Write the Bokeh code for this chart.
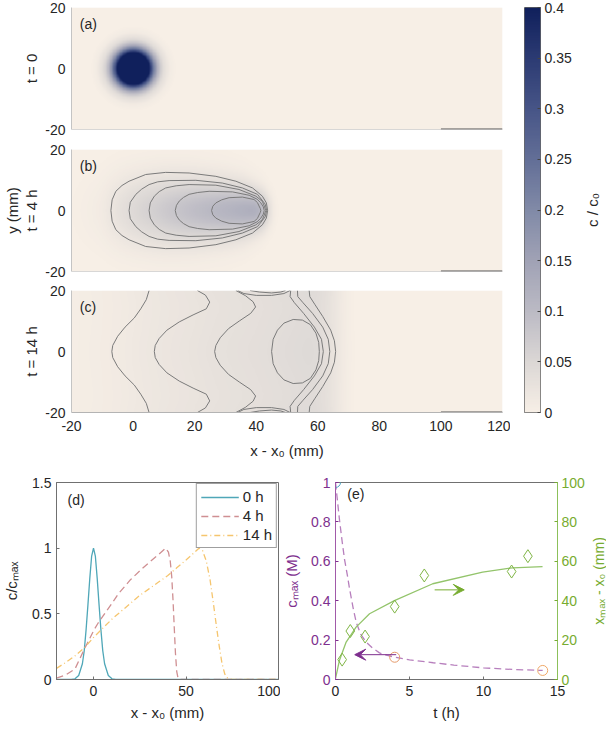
import numpy as np
from bokeh.plotting import figure
from bokeh.layouts import column, row
from bokeh.models import (LinearColorMapper, FixedTicker, Label, Legend,
                          LegendItem, LinearAxis, Range1d, Arrow, VeeHead, Span)
from bokeh.embed import file_html
from bokeh.resources import INLINE

FONT = "Liberation Sans"
TXT = "#262626"
TICK_FS = "14px"
LAB_FS = "15px"

# ---------------- data ----------------
x_extent = [-20, 120]
y_extent = [-20, 20]
map_x_ticks = [-20, 0, 20, 40, 60, 80, 100, 120]
map_x_labels = ["-20", "0", "20", "40", "60", "80", "100", "120"]
map_y_ticks = [-20, 0, 20]
map_y_labels = ["-20", "0", "20"]

cbar_ticks = [0, 0.05, 0.1, 0.15, 0.2, 0.25, 0.3, 0.35, 0.4]
cbar_labels = ["0", "0.05", "0.1", "0.15", "0.2", "0.25", "0.3", "0.35", "0.4"]

# (a) t = 0 : radial profile of the initial spot (c/c0 vs r, mm)
blob_x0, blob_y0 = 0.0, 0.0
blob_r = [0, 2, 3, 4, 5, 6, 7, 8, 9, 10, 12, 14]
blob_c = [1.0, 0.87, 0.74, 0.58, 0.43, 0.30, 0.19, 0.11, 0.065, 0.035, 0.008, 0.0]

# (d) centre-line profiles c/cmax
prof_x_0h = [-20, -12, -10, -8, -6, -5, -4, -3, -2, -1, 0, 1, 2, 3, 4, 5, 6, 8, 10, 12, 100]
prof_0h = [0, 0, 0.005, 0.03, 0.12, 0.22, 0.38, 0.57, 0.77, 0.94, 1.0, 0.94, 0.77, 0.57,
           0.38, 0.22, 0.12, 0.03, 0.005, 0, 0]
prof_x_4h = [-20, -15, -10, -5, 0, 2.5, 5, 10, 13.3, 20, 26, 30, 35, 39, 40.5, 41.5, 42.3,
             43, 43.7, 44.3, 45, 45.7, 47, 100]
prof_4h = [0.01, 0.035, 0.08, 0.23, 0.37, 0.43, 0.48, 0.58, 0.65, 0.76, 0.84, 0.89, 0.95,
           1.0, 0.97, 0.9, 0.78, 0.6, 0.38, 0.2, 0.06, 0.01, 0, 0]
prof_x_14h = [-20, -15, -10, -5, 0, 5, 10, 15, 20, 25, 30, 35, 40, 45, 50, 54, 57, 59, 61,
              63, 65, 66.5, 68, 69.5, 71, 72.5, 75, 100]
prof_14h = [0.085, 0.13, 0.18, 0.24, 0.32, 0.39, 0.46, 0.52, 0.58, 0.64, 0.69, 0.74, 0.79,
            0.85, 0.91, 0.96, 1.0, 0.98, 0.9, 0.76, 0.56, 0.4, 0.25, 0.12, 0.04, 0.01, 0, 0]

# (b), (c): peak c/c0 and transverse profiles (relative, vs |y|)
cmax_4h = 0.125
cmax_14h = 0.045
trans_y = [0, 2, 4, 6, 8, 10, 12, 14, 16, 18, 20, 25, 30, 80]
trans_4h = [1.0, 0.97, 0.88, 0.75, 0.6, 0.45, 0.32, 0.21, 0.13, 0.075, 0.04, 0.01, 0.0, 0.0]
trans_14h = [1.0, 0.995, 0.985, 0.97, 0.96, 0.95, 0.94, 0.93, 0.935, 0.95, 0.965, 0.965,
             0.965, 0.965]
# width of the 4 h plume relative to its rear part, vs x
width_x_4h = [-20, 10, 20, 30, 36, 40, 44, 50, 120]
width_4h = [1.0, 1.0, 0.93, 0.82, 0.72, 0.6, 0.5, 0.45, 0.45]

# (b) contour lines (upper half; mirrored in y)
c4_lines_x = [
    [-7.2, -6.8, -5.6, -3.6, -1.3, 4.1, 10.6, 18.2, 26.9, 33.4, 38.8, 42.0, 43.3, 43.7],
    [-1.3, -0.9, 0.9, 2.8, 5.2, 8.0, 11.7, 20.4, 29.0, 35.5, 40.4, 42.9, 43.4],
    [5.2, 5.6, 6.9, 8.5, 10.6, 14.0, 18.2, 26.9, 34.4, 39.9, 42.0, 42.6, 43.1],
    [13.7, 14.1, 15.0, 16.4, 18.2, 21.0, 24.7, 32.3, 37.7, 40.3, 41.5, 42.3, 42.6],
    [25.5, 25.9, 26.9, 28.8, 31.2, 35.5, 39.3, 40.4, 40.9, 41.3, 41.5],
]
c4_lines_y = [
    [0, 3.5, 6.3, 8.2, 9.6, 11.8, 12.5, 12.3, 11.2, 9.6, 7.4, 4.7, 2.5, 0],
    [0, 2.7, 5.3, 7.0, 8.5, 9.4, 9.8, 9.9, 9.0, 7.4, 5.3, 2.1, 0],
    [0, 2.5, 4.7, 6.2, 7.4, 8.1, 8.5, 8.3, 6.9, 4.7, 3.0, 1.5, 0],
    [0, 1.7, 3.1, 4.3, 5.3, 5.9, 6.3, 6.1, 5.0, 3.7, 2.5, 1.2, 0],
    [0, 1.4, 2.5, 3.5, 4.2, 4.4, 3.6, 2.6, 1.5, 0.7, 0],
]

# (c) contour lines (upper half; mirrored in y)
c14_lines_x = [
    [5.2, 4.3, 2.5, 0.4, -2.6, -5.0, -6.6, -6.9],
    [20.9, 23.5, 24.9, 23.8, 19.5, 15.0, 11.0, 8.5, 7.2, 6.9],
    [33.4, 36.5, 39.0, 39.8, 38.2, 34.5, 31.0, 28.3, 26.9, 26.5],
    [45.0, 45.5, 46.9, 49.0, 52.0, 55.0, 57.6, 59.4, 60.3, 60.5],
    [51.2, 51.0, 52.4, 55.4, 58.9, 61.2, 61.8],
    [53.4, 53.5, 55.2, 58.3, 61.6, 63.4, 63.9],
    [57.2, 57.4, 59.0, 61.6, 64.2, 65.4, 65.8],
]
c14_lines_y = [
    [20, 17, 14, 11, 8, 5, 2, 0],
    [20, 18.5, 16.2, 14, 12, 9.7, 7, 4.3, 2, 0],
    [20, 18.3, 16.3, 14.6, 12.5, 10, 7.5, 4.5, 2, 0],
    [0, 4, 7, 9.3, 10.5, 10.3, 8.8, 6, 3, 0],
    [20, 18, 16, 12.5, 8, 4, 0],
    [20, 18, 16, 12.5, 8, 4, 0],
    [20, 18, 15.5, 11.5, 7, 3.5, 0],
]
# small loops hugging the walls (top wall; mirrored to the bottom wall)
c14_wall_x = [[34.0, 36.0, 40.0, 45.0, 49.0, 51.0],
              [38.0, 41.0, 45.0, 48.0, 49.5]]
c14_wall_y = [[20, 19.0, 18.4, 18.4, 19.0, 20],
              [20, 19.5, 19.2, 19.5, 20]]

# (d), (e) ticks
d_x_ticks = [0, 50, 100]
d_x_labels = ["0", "50", "100"]
d_y_ticks = [0, 0.5, 1, 1.5]
d_y_labels = ["0", "0.5", "1", "1.5"]
e_x_ticks = [0, 5, 10, 15]
e_x_labels = ["0", "5", "10", "15"]
e_l_ticks = [0, 0.2, 0.4, 0.6, 0.8, 1.0]
e_l_labels = ["0", "0.2", "0.4", "0.6", "0.8", "1"]
e_r_ticks = [0, 20, 40, 60, 80, 100]
e_r_labels = ["0", "20", "40", "60", "80", "100"]

# (e) c_max and x_max - x0 vs t
t_cmax_line = [0, 0.1, 0.27, 0.45, 0.61, 0.8, 0.95, 1.2, 1.4, 1.7, 2.07, 2.5, 2.97, 3.5,
               4.05, 5, 6.6, 8, 10, 12, 14]
cmax_line = [1.0, 0.93, 0.81, 0.7, 0.61, 0.53, 0.46, 0.36, 0.29, 0.23, 0.19, 0.16, 0.135,
             0.122, 0.113, 0.1, 0.085, 0.073, 0.059, 0.051, 0.046]
t_cmax_pts = [0, 4, 14]
cmax_pts = [1.0, 0.113, 0.046]
cmax_pt_colors = ["#4da6c4", "#e59a6a", "#f0a868"]

t_xmax_line = [0, 0.27, 0.72, 1.39, 2.3, 3.98, 6.57, 9.94, 11.96, 13.99]
xmax_line = [0.5, 9.8, 19.0, 26.6, 33.4, 40.0, 48.6, 54.5, 56.7, 57.3]
t_xmax_pts = [0.45, 1.0, 2.0, 4.0, 6.0, 11.9, 13.0]
xmax_pts = [10.1, 24.6, 21.8, 37.0, 52.8, 54.8, 62.6]

arrow_c = dict(t0=4.1, t1=1.3, v=0.126)
arrow_x = dict(t0=6.7, t1=8.7, v=45.5)

# ---------------- colour map ----------------
cmap_stops = [0.0, 0.05, 0.1, 0.15, 0.2, 0.25, 0.3, 0.35, 0.4]
cmap_rgb = [(247, 239, 230), (219, 215, 213), (187, 186, 196), (160, 162, 181),
            (129, 138, 167), (99, 111, 151), (71, 85, 135), (44, 59, 115), (16, 32, 92)]
pos = np.linspace(0, 0.4, 256)
chan = [np.interp(pos, cmap_stops, [c[i] for c in cmap_rgb]) for i in range(3)]
palette = ["#%02x%02x%02x" % (int(round(r)), int(round(g)), int(round(b)))
           for r, g, b in zip(*chan)]
cmap = LinearColorMapper(palette=palette, low=0, high=0.4)

# ---------------- fields ----------------
xs = np.linspace(x_extent[0], x_extent[1], 561)
ys = np.linspace(y_extent[0], y_extent[1], 161)
X, Y = np.meshgrid(xs, ys)
R = np.hypot(X - blob_x0, Y - blob_y0)
field_a = np.interp(R, blob_r, blob_c)


def smooth_x(profile, sigma_pts=5):
    k = np.arange(-4 * sigma_pts, 4 * sigma_pts + 1)
    w = np.exp(-0.5 * (k / sigma_pts) ** 2)
    w /= w.sum()
    pad = np.pad(profile, len(k) // 2, mode="edge")
    return np.convolve(pad, w, mode="valid")


f4 = smooth_x(np.interp(xs, prof_x_4h, prof_4h))
f14 = smooth_x(np.interp(xs, prof_x_14h, prof_14h))
wid4 = np.interp(xs, width_x_4h, width_4h)
field_b = cmax_4h * f4[None, :] * np.interp(np.abs(Y) / wid4[None, :], trans_y, trans_4h)
field_c = cmax_14h * f14[None, :] * np.interp(np.abs(ys), trans_y, trans_14h)[:, None]


def mirror_lines(lx_list, ly_list):
    mx, my = [], []
    for lx, ly in zip(lx_list, ly_list):
        mx.append(list(lx) + list(lx[::-1][1:]))
        my.append(list(ly) + [-v for v in ly[::-1][1:]])
    return mx, my


def style_axis(ax, size=TICK_FS, color=TXT, lsize=LAB_FS):
    ax.major_label_text_font = FONT
    ax.major_label_text_font_size = size
    ax.major_label_text_color = color
    ax.axis_label_text_font = FONT
    ax.axis_label_text_font_size = lsize
    ax.axis_label_text_font_style = "normal"
    ax.axis_label_text_color = color
    ax.minor_tick_line_color = None


def label_only_axis(text, color, lsize=LAB_FS):
    ax = LinearAxis(ticker=FixedTicker(ticks=[]), axis_label=text)
    ax.axis_line_color = None
    ax.major_tick_line_color = None
    ax.major_tick_in = 0
    ax.major_tick_out = 0
    ax.minor_tick_in = 0
    ax.minor_tick_out = 0
    ax.major_label_standoff = 0
    ax.axis_label_standoff = 0
    style_axis(ax, TICK_FS, color, lsize)
    return ax


def label_strip(text, color, frame_h, top, left, lsize=LAB_FS):
    """A 1-px wide figure whose left axis carries only a (bottom-to-top) label."""
    p = figure(frame_width=1, frame_height=frame_h, x_range=Range1d(0, 1),
               y_range=Range1d(0, 1), output_backend="svg", toolbar_location=None,
               min_border_left=left, min_border_right=0, min_border_top=top,
               min_border_bottom=0, outline_line_color=None, y_axis_location=None)
    p.grid.visible = False
    p.xaxis.visible = False
    p.add_layout(label_only_axis(text, color, lsize), "left")
    return p


def map_fig(field, ylabel, tag, top, bottom, show_x, extra_label=None):
    p = figure(frame_width=431, frame_height=122,
               x_range=Range1d(*x_extent), y_range=Range1d(*y_extent),
               output_backend="svg", toolbar_location=None,
               min_border_left=69, min_border_right=10,
               min_border_top=top, min_border_bottom=bottom,
               outline_line_color=None)
    p.grid.visible = False
    p.image(image=[field], x=x_extent[0], y=y_extent[0], dw=x_extent[1] - x_extent[0],
            dh=y_extent[1] - y_extent[0], color_mapper=cmap)
    ya = p.yaxis[0]
    ya.ticker = FixedTicker(ticks=map_y_ticks)
    ya.major_label_overrides = dict(zip(map_y_ticks, map_y_labels))
    ya.axis_label = ylabel
    ya.axis_line_color = "#c4c4c4"
    ya.major_tick_line_color = None
    ya.major_tick_in = 0
    ya.major_tick_out = 0
    ya.major_label_standoff = 6
    ya.axis_label_standoff = 2
    style_axis(ya)
    if extra_label:
        p.add_layout(label_only_axis(extra_label, TXT), "left")
    xa = p.xaxis[0]
    if show_x:
        xa.ticker = FixedTicker(ticks=map_x_ticks)
        xa.major_label_overrides = dict(zip(map_x_ticks, map_x_labels))
        xa.axis_label = "x - x\u2080 (mm)"
        xa.axis_line_color = "#b4b4b4"
        xa.major_tick_line_color = None
        xa.major_tick_in = 0
        xa.major_tick_out = 0
        xa.major_label_standoff = 8
        xa.axis_label_standoff = 8
        style_axis(xa)
    else:
        xa.visible = False
        p.add_layout(Span(location=y_extent[0], dimension="width",
                          line_color="#b4b4b4", line_width=1))
    p.segment(x0=[100], y0=[y_extent[0]], x1=[x_extent[1]], y1=[y_extent[0]],
              line_color="#555555", line_width=2)
    p.add_layout(Label(x=-17.3, y=14.6, text=tag, text_font=FONT, text_font_size="14px",
                       text_color=TXT, text_baseline="middle"))
    return p


fa = map_fig(field_a, "t = 0", "(a)", 7, 10, False)
fb = map_fig(field_b, "t = 4 h", "(b)", 10, 9, False, extra_label="y (mm)")
bx, by = mirror_lines(c4_lines_x, c4_lines_y)
fb.multi_line(xs=bx, ys=by, line_color="#7a7a7a", line_width=1)
fc = map_fig(field_c, "t = 14 h", "(c)", 10, 0, True)
mx, my = mirror_lines(c14_lines_x, c14_lines_y)
for lx, ly in zip(c14_wall_x, c14_wall_y):
    mx.append(list(lx))
    my.append(list(ly))
    mx.append(list(lx))
    my.append([-v for v in ly])
fc.multi_line(xs=mx, ys=my, line_color="#7a7a7a", line_width=1)

# colour bar
cb = figure(frame_width=16, frame_height=405, x_range=Range1d(0, 1),
            y_range=Range1d(cbar_ticks[0], cbar_ticks[-1]),
            output_backend="svg", toolbar_location=None, y_axis_location="right",
            min_border_left=12, min_border_top=7, min_border_right=0, min_border_bottom=12,
            outline_line_color="#666666")
cb.grid.visible = False
cb.xaxis.visible = False
cb.image(image=[pos.reshape(-1, 1)], x=0, y=cbar_ticks[0], dw=1,
         dh=cbar_ticks[-1] - cbar_ticks[0], color_mapper=cmap)
ca = cb.yaxis[0]
ca.ticker = FixedTicker(ticks=cbar_ticks)
ca.major_label_overrides = dict(zip(cbar_ticks, cbar_labels))
ca.axis_line_color = None
ca.major_tick_in = 3
ca.major_tick_out = 0
ca.major_tick_line_color = "#444444"
ca.major_label_standoff = 4
style_axis(ca)
cb_lab = label_strip("c / c\u2080", TXT, 405, 7, 26)

# (d)
pd_ = figure(frame_width=222, frame_height=197, x_range=Range1d(-20, 100),
             y_range=Range1d(0, 1.5), output_backend="svg", toolbar_location=None,
             min_border_left=55, min_border_right=2, min_border_top=21, min_border_bottom=0,
             outline_line_color="#707070")
pd_.grid.visible = False
r0 = pd_.line(prof_x_0h, prof_0h, line_color="#4fa7b8", line_width=1.3)
r4 = pd_.line(prof_x_4h, prof_4h, line_color="#cf8f92", line_width=1.3, line_dash="7 4")
r14 = pd_.line(prof_x_14h, prof_14h, line_color="#f5c56e", line_width=1.3,
               line_dash="6 3 1 3")
for ax, tk, lb, lab in ((pd_.xaxis[0], d_x_ticks, d_x_labels, "x - x\u2080 (mm)"),
                        (pd_.yaxis[0], d_y_ticks, d_y_labels, "c/c\u2098\u2090\u2093")):
    ax.ticker = FixedTicker(ticks=tk)
    ax.major_label_overrides = dict(zip(tk, lb))
    ax.axis_label = lab
    ax.axis_line_color = "#707070"
    ax.major_tick_in = 3
    ax.major_tick_out = 0
    ax.major_tick_line_color = "#707070"
    style_axis(ax)
pd_.xaxis[0].major_label_standoff = 6
pd_.xaxis[0].axis_label_standoff = 5
pd_.yaxis[0].major_label_standoff = 5
pd_.yaxis[0].axis_label_standoff = 9
legend = Legend(items=[LegendItem(label="0 h", renderers=[r0]),
                       LegendItem(label="4 h", renderers=[r4]),
                       LegendItem(label="14 h", renderers=[r14])],
                location="top_right", label_text_font=FONT, label_text_font_size="15px",
                label_text_color=TXT, border_line_color="#404040", border_line_width=1,
                glyph_width=38, glyph_height=16, label_height=16, spacing=2, padding=4,
                margin=1, label_standoff=4, background_fill_alpha=1)
pd_.add_layout(legend)
pd_.add_layout(Label(x=-14, y=1.37, text="(d)", text_font=FONT, text_font_size="14px",
                     text_color=TXT, text_baseline="middle"))

# (e)
PURPLE = "#7e2f8e"
GREEN = "#77ac30"
pe = figure(frame_width=222, frame_height=197, x_range=Range1d(0, 15), y_range=Range1d(0, 1),
            output_backend="svg", toolbar_location=None,
            min_border_left=55, min_border_right=0, min_border_top=21, min_border_bottom=0,
            outline_line_color="#707070")
pe.grid.visible = False
pe.extra_y_ranges = {"xmax": Range1d(0, 100)}
pe.line(t_cmax_line, cmax_line, line_color="#b77fbd", line_width=1.3, line_dash="7 4")
pe.line(t_xmax_line, xmax_line, line_color="#93c46b", line_width=1.3, y_range_name="xmax")
pe.scatter(t_xmax_pts, xmax_pts, marker="diamond", size=13, fill_color=None,
           line_color="#7fb545", line_width=1, y_range_name="xmax")
pe.scatter(t_cmax_pts, cmax_pts, marker="circle", size=10, fill_color=None,
           line_color=cmax_pt_colors, line_width=1)
pe.add_layout(Arrow(end=VeeHead(size=11, fill_color=PURPLE, line_color=PURPLE),
                    x_start=arrow_c["t0"], y_start=arrow_c["v"], x_end=arrow_c["t1"],
                    y_end=arrow_c["v"], line_color=PURPLE, line_width=1))
pe.add_layout(Arrow(end=VeeHead(size=11, fill_color=GREEN, line_color=GREEN),
                    x_start=arrow_x["t0"], y_start=arrow_x["v"], x_end=arrow_x["t1"],
                    y_end=arrow_x["v"], line_color=GREEN, line_width=1,
                    y_range_name="xmax"))
xa = pe.xaxis[0]
xa.ticker = FixedTicker(ticks=e_x_ticks)
xa.major_label_overrides = dict(zip(e_x_ticks, e_x_labels))
xa.axis_label = "t (h)"
xa.axis_line_color = "#707070"
xa.major_tick_in = 3
xa.major_tick_out = 0
xa.major_tick_line_color = "#707070"
xa.major_label_standoff = 6
xa.axis_label_standoff = 5
style_axis(xa)
la = pe.yaxis[0]
la.ticker = FixedTicker(ticks=e_l_ticks)
la.major_label_overrides = dict(zip(e_l_ticks, e_l_labels))
la.axis_label = "c\u2098\u2090\u2093 (M)"
la.axis_line_color = "#a15aa9"
la.major_tick_in = 3
la.major_tick_out = 0
la.major_tick_line_color = PURPLE
la.major_label_standoff = 5
la.axis_label_standoff = 8
style_axis(la, TICK_FS, PURPLE)
ra = LinearAxis(y_range_name="xmax", ticker=FixedTicker(ticks=e_r_ticks),
                major_label_overrides=dict(zip(e_r_ticks, e_r_labels)))
ra.axis_line_color = "#8cc05a"
ra.major_tick_in = 3
ra.major_tick_out = 0
ra.major_tick_line_color = GREEN
ra.major_label_standoff = 4
style_axis(ra, TICK_FS, GREEN)
pe.add_layout(ra, "right")
pe.add_layout(Label(x=0.8, y=0.94, text="(e)", text_font=FONT, text_font_size="14px",
                    text_color=TXT, text_baseline="middle"))
pe_lab = label_strip("x\u2098\u2090\u2093 - x\u2080 (mm)", GREEN, 197, 21, 0, "14px")

layout = column(row(column(fa, fb, fc), cb, cb_lab), row(pd_, pe, pe_lab))
open("out.html", "w").write(file_html(layout, INLINE))
